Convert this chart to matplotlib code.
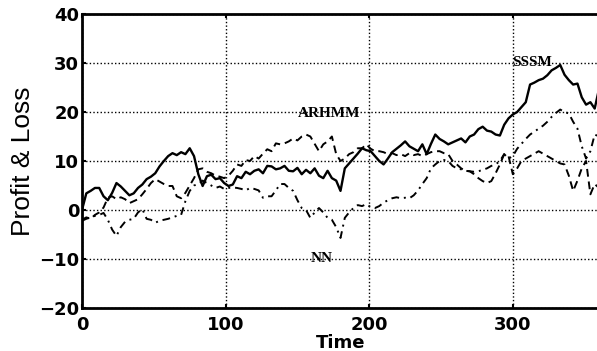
import numpy as np
import matplotlib
matplotlib.use("Agg")
import matplotlib.pyplot as plt

time = list(range(0, 361, 3))

sssm = [0, 3.4, 3.9, 4.5, 4.5, 2.8, 2.0, 3.5, 5.5, 4.8, 3.9, 3.0, 3.4, 4.5, 5.2, 6.3, 6.8, 7.5, 8.9, 10.0,
        11.0, 11.6, 11.2, 11.8, 11.4, 12.6, 11.0, 7.3, 4.9, 6.9, 7.2, 6.3, 6.5, 5.5, 4.9, 5.2, 6.9, 6.5, 7.8, 7.3,
        8.0, 8.3, 7.5, 9.0, 8.9, 8.3, 8.5, 9.0, 8.0, 7.9, 8.6, 7.3, 8.2, 7.5, 8.5, 7.0, 6.5, 8.0, 6.5, 6.0,
        3.9, 8.5, 9.5, 10.5, 11.5, 12.6, 12.2, 12.0, 11.0, 10.0, 9.3, 10.5, 11.8, 12.5, 13.2, 14.0, 13.0, 12.5, 12.0, 13.4,
        11.4, 13.5, 15.4, 14.5, 14.0, 13.4, 13.8, 14.2, 14.6, 13.8, 15.0, 15.4, 16.5, 17.0, 16.2, 16.0, 15.4, 15.2, 17.4, 18.7,
        19.5, 20.0, 21.0, 22.0, 25.6, 26.0, 26.5, 26.8, 27.5, 28.5, 29.0, 29.6, 27.6, 26.5, 25.6, 25.8, 23.0, 21.5, 22.0, 20.7,
        24.7]

arhmm = [-2.0, -1.5, -1.8, -1.0, -0.5, 0.5, 2.5, 2.8, 2.2, 2.6, 2.2, 1.4, 1.8, 2.2, 3.2, 4.3, 5.5, 6.3, 5.8, 5.3,
         4.9, 4.9, 2.8, 2.4, 3.5, 5.0, 6.5, 8.3, 8.5, 7.8, 7.5, 7.0, 6.8, 6.5, 7.0, 8.0, 9.3, 9.0, 10.2, 10.0,
         11.0, 10.5, 11.5, 12.4, 12.0, 13.6, 13.4, 13.6, 14.0, 14.6, 14.2, 15.0, 15.4, 15.0, 13.5, 12.0, 13.4, 14.0, 15.0, 11.4,
         10.0, 10.5, 11.4, 11.8, 12.6, 12.6, 13.4, 12.5, 12.0, 12.0, 11.8, 11.4, 11.6, 11.2, 11.4, 11.0, 11.6, 11.2, 11.4, 11.0,
         11.4, 11.8, 12.0, 12.0, 11.6, 11.4, 10.0, 9.3, 8.5, 8.0, 7.9, 7.3, 6.5, 5.9, 5.5, 5.9, 7.5, 9.3, 11.4, 11.0,
         7.3, 8.5, 10.0, 10.5, 11.0, 11.5, 12.0, 11.5, 11.0, 10.5, 10.0, 9.5, 9.3, 7.0, 3.9, 6.0, 8.5, 10.0, 3.2, 5.3,
         4.5]

nn = [-2.2, -1.8, -1.5, -1.2, -1.0, -0.6, -2.0, -4.0, -5.3, -3.5, -2.4, -2.0, -1.8, -0.5, 0.2, -1.8, -2.0, -2.6, -2.2, -2.0,
      -1.8, -1.5, -1.2, -1.0, 1.8, 3.9, 5.0, 5.3, 6.0, 5.5, 5.0, 4.5, 4.8, 4.3, 4.5, 4.6, 4.5, 4.3, 4.0, 4.5,
      4.3, 4.0, 2.5, 2.8, 2.8, 4.0, 5.3, 5.3, 4.5, 3.9, 2.0, 0.4, 0.0, -1.6, -0.5, 0.4, -0.5, -1.6, -2.0, -3.5,
      -5.7, -1.6, -0.5, 0.4, 1.0, 0.8, 1.2, 0.6, 0.4, 0.8, 1.5, 2.0, 2.4, 2.6, 2.4, 2.5, 2.4, 3.0, 4.0, 5.3,
      6.5, 8.5, 9.3, 10.0, 10.2, 10.0, 9.0, 8.5, 8.3, 8.0, 7.9, 7.8, 7.9, 8.2, 8.5, 9.0, 9.3, 10.0, 11.4, 10.5,
      11.0, 12.5, 13.5, 14.5, 15.4, 16.0, 16.6, 17.2, 18.0, 19.0, 19.8, 20.5, 20.0, 19.7, 18.0, 16.6, 13.0, 10.5, 12.0, 15.4,
      15.0]

x_ticks = [0, 100, 200, 300]
y_ticks = [-20, -10, 0, 10, 20, 30, 40]

W, H = 597, 351
fig = plt.figure(figsize=(W / 100, H / 100), dpi=100)
ax = fig.add_axes([82 / W, (H - 308) / H, (599 - 82) / W, (308 - 14) / H])

ax.plot(time, sssm, color="black", lw=1.7, ls="-")
ax.plot(time, arhmm, color="black", lw=1.4, ls=(0, (4, 2.5)))
ax.plot(time, nn, color="black", lw=1.4, ls=(0, (4, 2.5, 1, 2.5)))

ax.set_xlim(0, 360)
ax.set_ylim(-20, 40)
ax.set_xticks(x_ticks)
ax.set_yticks(y_ticks)
ax.grid(True, color="black", ls=(0, (1, 1.6)), lw=1.0)

for s in ["left", "bottom", "top"]:
    ax.spines[s].set_linewidth(2.0)
ax.spines["right"].set_visible(False)

ax.tick_params(direction="in", length=3, width=1.5, top=True)
ax.tick_params(axis="x", pad=6)
ax.tick_params(axis="y", pad=2)
for lab in ax.get_xticklabels() + ax.get_yticklabels():
    lab.set_fontsize(13)
    lab.set_fontweight("bold")
    lab.set_family("DejaVu Sans")

ax.set_xlabel("Time", fontsize=13, fontweight="bold", family="DejaVu Sans", labelpad=0)
ax.set_ylabel("Profit & Loss", fontsize=19, family="Liberation Sans", labelpad=3)

ann = dict(fontsize=11, fontweight="bold", family="Liberation Serif", va="center", ha="left")
ax.text(299.5, 30, "SSSM", **ann)
ax.text(150.5, 19.7, "ARHMM", **ann)
ax.text(159, -10, "NN", **ann)

fig.savefig("out.png", dpi=100)
